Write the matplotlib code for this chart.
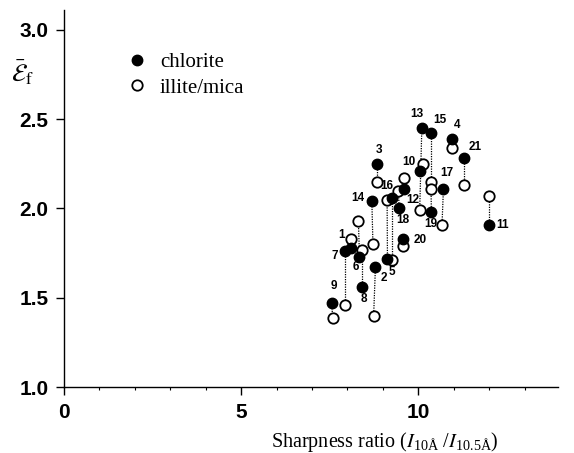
import matplotlib
matplotlib.use('Agg')
import matplotlib.pyplot as plt
from matplotlib.ticker import MultipleLocator

plt.rcParams['mathtext.fontset'] = 'stix'

# sample numbers
samples = ['1', '2', '3', '4', '5', '6', '7', '8', '9', '10', '11',
           '12', '13', '14', '15', '16', '17', '18', '19', '20', '21']

# chlorite: sharpness ratio and mean strain
x_chl = [8.10, 8.79, 8.83, 10.95, 9.13, 8.34, 7.94, 8.41, 7.56, 10.06, 12.01,
         9.60, 10.10, 8.69, 10.36, 9.26, 10.71, 9.46, 10.37, 9.57, 11.30]
y_chl = [1.78, 1.67, 2.25, 2.39, 1.72, 1.73, 1.76, 1.56, 1.47, 2.21, 1.91,
         2.11, 2.45, 2.04, 2.42, 2.06, 2.11, 2.00, 1.98, 1.83, 2.28]

# illite/mica
x_ill = [8.10, 8.74, 8.83, 10.95, 9.12, 8.31, 7.94, 8.41, 7.58, 10.12, 12.01,
         9.60, 10.04, 8.72, 10.36, 9.26, 10.67, 9.44, 10.36, 9.57, 11.30]
y_ill = [1.83, 1.40, 2.15, 2.34, 2.05, 1.93, 1.46, 1.77, 1.39, 2.25, 2.07,
         2.17, 1.99, 1.80, 2.15, 1.71, 1.91, 2.10, 2.11, 1.79, 2.13]

# label offsets (pixels) from the chlorite point
lab_off = [(-9, 13), (8, -11), (2, 14), (5, 14), (4, -13), (-4, -10), (-11, -5),
           (2, -12), (2, 17), (-12, 9), (13, 0), (9, -11), (-5, 14), (-14, 3),
           (9, 13), (-5, 12), (3, 16), (4, -12), (-1, -12), (17, -1), (11, 11)]

fig = plt.figure(figsize=(5.74, 4.53), dpi=100)
ax = fig.add_axes([0.1115, 0.145, 0.861, 0.833])

# dotted tie lines between the two minerals of a sample
for xc, yc, xi, yi in zip(x_chl, y_chl, x_ill, y_ill):
    ax.plot([xc, xi], [yc, yi], color='black', linestyle=(0, (1, 1)), lw=0.9, zorder=1)

ax.plot(x_ill, y_ill, 'o', ms=7.5, mfc='white', mec='black', mew=1.3,
        linestyle='none', zorder=2, label='illite/mica')
ax.plot(x_chl, y_chl, 'o', ms=7.5, mfc='black', mec='black', mew=1.0,
        linestyle='none', zorder=3, label='chlorite')

for s, xc, yc, off in zip(samples, x_chl, y_chl, lab_off):
    ax.annotate(s, (xc, yc), xytext=off, textcoords='offset pixels',
                ha='center', va='center', fontsize=8.5, fontweight='bold',
                family='Liberation Sans', zorder=4)

ax.set_xlim(0, 13.95)
ax.set_ylim(1.0, 3.11)
ax.xaxis.set_major_locator(MultipleLocator(5))
ax.xaxis.set_minor_locator(MultipleLocator(1))
ax.set_yticks([1.0, 1.5, 2.0, 2.5, 3.0])
ax.set_yticklabels(['1.0', '1.5', '2.0', '2.5', '3.0'])

for sp in ['top', 'right']:
    ax.spines[sp].set_visible(False)
for sp in ['left', 'bottom']:
    ax.spines[sp].set_linewidth(1.0)

ax.tick_params(which='major', direction='out', length=6, width=1,
               labelsize=15, pad=5)
ax.tick_params(which='minor', direction='out', length=2.5, width=0.8)
for t in ax.get_xticklabels() + ax.get_yticklabels():
    t.set_fontweight('bold')
    t.set_family('Liberation Sans')

handles, labels = ax.get_legend_handles_labels()
ax.legend(handles[::-1], labels[::-1], loc='upper left', bbox_to_anchor=(0.11, 0.91),
          frameon=False, handlelength=1.0, handletextpad=0.6, labelspacing=0.3,
          borderaxespad=0, prop={'family': 'Liberation Serif', 'size': 15})

ax.set_xlabel(r'Sharpness ratio ($I$$\mathregular{_{10Å}}$ /$I$$\mathregular{_{10.5Å}}$)',
              family='Liberation Serif', fontsize=14.5, labelpad=6, x=0.649)
fig.text(0.02, 0.84, r'$\bar{\mathcal{E}}_\mathrm{f}$', fontsize=18, ha='left', va='center')

fig.savefig('out.png', dpi=100)
